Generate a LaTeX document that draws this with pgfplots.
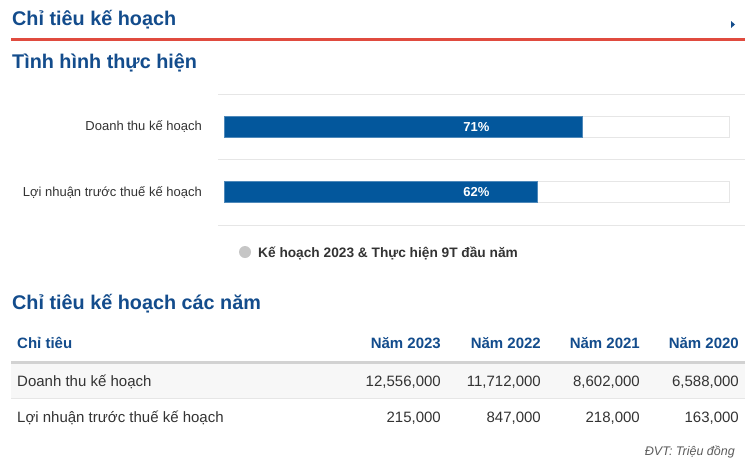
\documentclass[border=0pt]{standalone}
\usepackage{pgfplots}
\pgfplotsset{compat=1.18}
\usepackage{fontspec}
\setmainfont{Liberation Sans}

\definecolor{titleblue}{HTML}{134C8C}
\definecolor{barblue}{HTML}{03579C}
\definecolor{redline}{HTML}{E04B3F}
\definecolor{gridgray}{HTML}{E6E6E6}
\definecolor{rowgray}{HTML}{F7F7F7}
\definecolor{txtgray}{HTML}{333333}

\newcommand{\fs}[1]{\fontsize{#1}{#1}\selectfont}

\begin{document}
\begin{tikzpicture}[x=1pt,y=1pt]
\path[use as bounding box, fill=white] (0,0) rectangle (754,-471);

% header
\node[anchor=base west, inner sep=0pt, text=titleblue, font=\fs{19.8}\bfseries] at (12,-25) {Chỉ tiêu kế hoạch};
\fill[titleblue] (731,-21) -- (735,-24.5) -- (731,-28) -- cycle;
\fill[redline] (11,-37.5) rectangle (745,-40.5);
\node[anchor=base west, inner sep=0pt, text=titleblue, font=\fs{19.8}\bfseries] at (12,-68) {Tình hình thực hiện};

% progress bars
\begin{axis}[
    at={(218pt,-94pt)}, anchor=north west,
    scale only axis, width=527pt, height=131pt,
    xmin=-1.19, xmax=103.17,
    ymin=-0.5, ymax=1.5, y dir=reverse,
    axis line style={draw=none},
    major tick length=0pt, minor tick length=0pt,
    xtick=\empty,
    ytick={0,1},
    yticklabels={Doanh thu kế hoạch, Lợi nhuận trước thuế kế hoạch},
    yticklabel style={font=\fs{13}, text=txtgray, inner sep=0pt, xshift=-16pt},
    minor ytick={-0.5,0.5,1.5},
    yminorgrids=true,
    minor grid style={gridgray, line width=0.8pt},
    clip=false,
]
\addplot[xbar, bar width=21pt, bar shift=0pt, fill=white, draw=gridgray, line width=0.8pt]
    coordinates {(100,0) (100,1)};
\addplot[xbar, bar width=21pt, bar shift=0pt, fill=barblue, draw=barblue!70!white, line width=0.6pt]
    coordinates {(71,0) (62,1)};
\addplot[only marks, mark=none, point meta=explicit symbolic,
    nodes near coords, nodes near coords align=center,
    nodes near coords style={font=\fs{13}\bfseries, text=white, anchor=center}]
    coordinates {(50,0) [71\%] (50,1) [62\%]};
\end{axis}

% legend
\fill[gray!45] (245,-252) circle (6);
\node[anchor=base west, inner sep=0pt, text=txtgray, font=\fs{13.7}\bfseries] at (258,-257) {Kế hoạch 2023 \& Thực hiện 9T đầu năm};

% table
\node[anchor=base west, inner sep=0pt, text=titleblue, font=\fs{19.8}\bfseries] at (12,-309) {Chỉ tiêu kế hoạch các năm};

\node[anchor=base west, inner sep=0pt, text=titleblue, font=\fs{15}\bfseries] at (17,-348) {Chỉ tiêu};
\foreach \x/\y in {441/2023, 541/2022, 640/2021, 739/2020}
  \node[anchor=base east, inner sep=0pt, text=titleblue, font=\fs{15}\bfseries] at (\x,-348) {Năm \y};

\fill[rowgray] (11,-363) rectangle (745,-398);
\fill[gridgray!80!gray] (11,-360.5) rectangle (745,-363.5);
\draw[gridgray, line width=1pt] (11,-398.5) -- (745,-398.5);

\node[anchor=base west, inner sep=0pt, text=txtgray, font=\fs{15}] at (17,-386) {Doanh thu kế hoạch};
\node[anchor=base west, inner sep=0pt, text=txtgray, font=\fs{15}] at (17,-422) {Lợi nhuận trước thuế kế hoạch};
\foreach \x/\v in {441/{12,556,000}, 541/{11,712,000}, 640/{8,602,000}, 739/{6,588,000}}
  \node[anchor=base east, inner sep=0pt, text=txtgray, font=\fs{15}] at (\x,-386) {\v};
\foreach \x/\v in {441/{215,000}, 541/{847,000}, 640/{218,000}, 739/{163,000}}
  \node[anchor=base east, inner sep=0pt, text=txtgray, font=\fs{15}] at (\x,-422) {\v};

\node[anchor=base east, inner sep=0pt, text=txtgray!80, font=\fs{12.5}\itshape] at (735,-455) {ĐVT: Triệu đồng};
\end{tikzpicture}
\end{document}
